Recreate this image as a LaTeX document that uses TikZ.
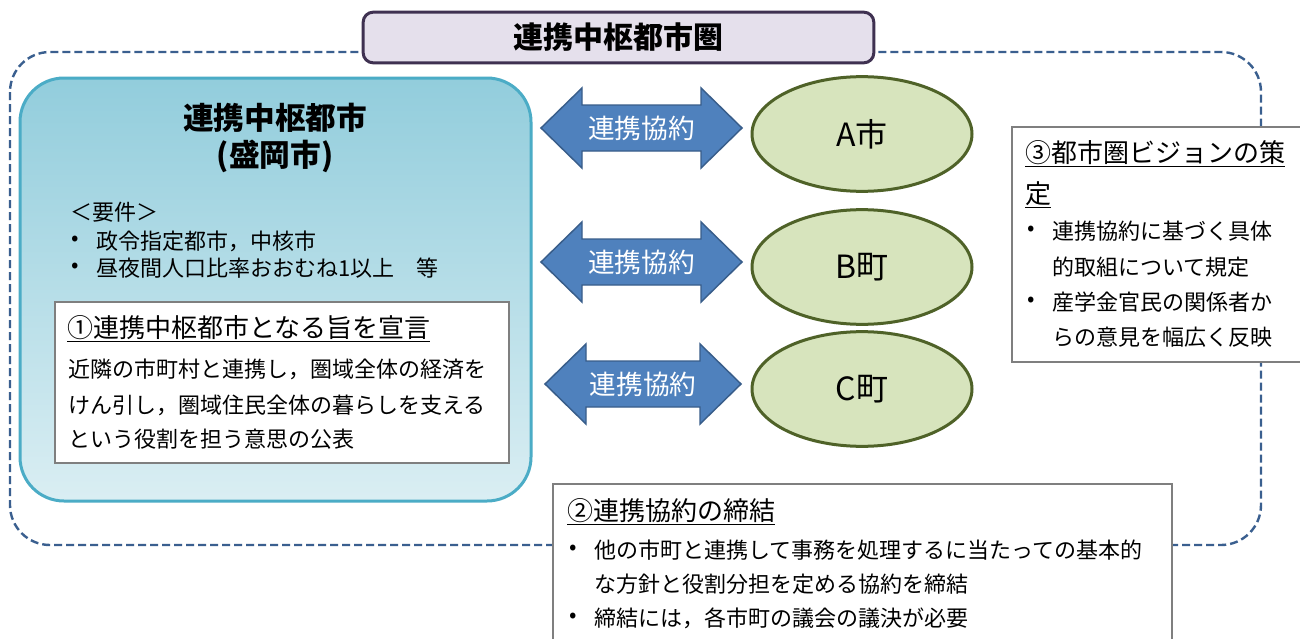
\documentclass[tikz,border=0pt]{standalone}
\usepackage{fontspec}
\setmainfont{Noto Sans CJK JP}
\usetikzlibrary{shapes.geometric}
\definecolor{dashblue}{HTML}{3A5F8F}
\definecolor{arrfill}{HTML}{4F81BD}
\definecolor{arrline}{HTML}{385D8A}
\definecolor{lav}{HTML}{E5E0EC}
\definecolor{lavline}{HTML}{3F3151}
\definecolor{ellfill}{HTML}{D7E4BD}
\definecolor{ellline}{HTML}{4F6228}
\definecolor{bluetop}{HTML}{92CDDC}
\definecolor{bluebot}{HTML}{DAEEF3}
\definecolor{blueline}{HTML}{4BACC6}
\definecolor{grayline}{HTML}{7F7F7F}
\newcommand{\bodyfs}{\fontsize{16.5pt}{20pt}\selectfont}
\newcommand{\headfs}{\fontsize{19.5pt}{24pt}\selectfont}
\begin{document}
\begin{tikzpicture}[x=0.75pt,y=-0.75pt,
  dashline/.style={draw=dashblue,line width=1.8pt,dash pattern=on 6pt off 3pt,rounded corners=30pt},
  titlebox/.style={draw=lavline,fill=lav,line width=2.25pt,rounded corners=7.5pt,minimum width=383pt,minimum height=38pt,inner sep=0pt,font=\fontsize{22.5pt}{26pt}\selectfont\bfseries},
  ell/.style={ellipse,draw=ellline,fill=ellfill,line width=2.25pt,minimum width=165pt,minimum height=86pt,inner sep=0pt,font=\fontsize{24pt}{28pt}\selectfont},
  arr/.style={draw=arrline,fill=arrfill,line width=1.1pt},
  arrtxt/.style={inner sep=0pt,text=white,font=\fontsize{20pt}{24pt}\selectfont},
  whitebox/.style={draw=grayline,fill=white,line width=1.1pt},
  txt/.style={anchor=west,inner sep=0pt,font=\bodyfs},
  head/.style={anchor=west,inner sep=0pt,font=\headfs},
  bul/.style={anchor=center,inner sep=0pt,font=\bodyfs},
  bigtitle/.style={inner sep=0pt,font=\fontsize{23pt}{28pt}\selectfont\bfseries}
]
\useasboundingbox (0,0) rectangle (1300,639);
\clip (0,0) rectangle (1300,639);
\fill[white] (0,0) rectangle (1300,639);

% outer dashed region
\draw[dashline] (10,52) rectangle (1261,545);

% title
\node[titlebox] (title) at (618.5,37.5) {連携中枢都市圏};

% central city box
\path[draw=blueline,line width=2.25pt,top color=bluetop,bottom color=bluebot,rounded corners=33pt] (20,78) rectangle (531,501);
\node[bigtitle] (ct1) at (275,118) {連携中枢都市};
\node[bigtitle] (ct2) at (275,156) {(盛岡市)};
\node[txt] (req) at (70,212) {＜要件＞};
\node[bul] (rb1) at (75,241) {•};
\node[txt] (r1) at (96,241) {政令指定都市，中核市};
\node[bul] (rb2) at (75,268) {•};
\node[txt] (r2) at (96,268) {昼夜間人口比率おおむね1以上\hspace{1em}等};

% box 1
\draw[whitebox] (55,302) rectangle (509,463);
\node[head] (h1) at (67,329) {\underline{①連携中枢都市となる旨を宣言}};
\node[txt] (b11) at (68,369) {近隣の市町村と連携し，圏域全体の経済を};
\node[txt] (b12) at (68,405) {けん引し，圏域住民全体の暮らしを支える};
\node[txt] (b13) at (68,439) {という役割を担う意思の公表};

% arrows
\foreach \L/\R/\cy/\nm in {541/742/128/k1, 541/742/262/k2, 545/741/384/k3}{
  \draw[arr] (\L,\cy) -- ({\L+41},{\cy-40}) -- ({\L+41},{\cy-23}) -- ({\R-41},{\cy-23}) -- ({\R-41},{\cy-40}) -- (\R,\cy)
    -- ({\R-41},{\cy+40}) -- ({\R-41},{\cy+23}) -- ({\L+41},{\cy+23}) -- ({\L+41},{\cy+40}) -- cycle;
  \node[arrtxt] (\nm) at ({(\L+\R)/2},\cy) {連携協約};
}

% ellipses
\node[ell] (A) at (862,134) {A市};
\node[ell] (B) at (862,267) {B町};
\node[ell] (C) at (862,389) {C町};

% box 3
\draw[whitebox] (1012,127) rectangle (1320,362);
\node[head] (h3a) at (1025,154) {\underline{③都市圏ビジョンの策}};
\node[head] (h3b) at (1025,195) {\underline{定}};
\node[bul] (b3a) at (1031,231) {•};
\node[txt] (t3a) at (1052,231) {連携協約に基づく具体};
\node[txt] (t3b) at (1052,267) {的取組について規定};
\node[bul] (b3b) at (1031,302) {•};
\node[txt] (t3c) at (1052,302) {産学金官民の関係者か};
\node[txt] (t3d) at (1052,337) {らの意見を幅広く反映};

% box 2
\draw[whitebox] (553,484) rectangle (1172,660);
\node[head] (h2) at (567,512) {\underline{②連携協約の締結}};
\node[bul] (b2a) at (573,550) {•};
\node[txt] (t2a) at (594,550) {他の市町と連携して事務を処理するに当たっての基本的};
\node[txt] (t2b) at (594,584) {な方針と役割分担を定める協約を締結};
\node[bul] (b2b) at (573,618) {•};
\node[txt] (t2c) at (594,618) {締結には，各市町の議会の議決が必要};
\end{tikzpicture}
\end{document}
